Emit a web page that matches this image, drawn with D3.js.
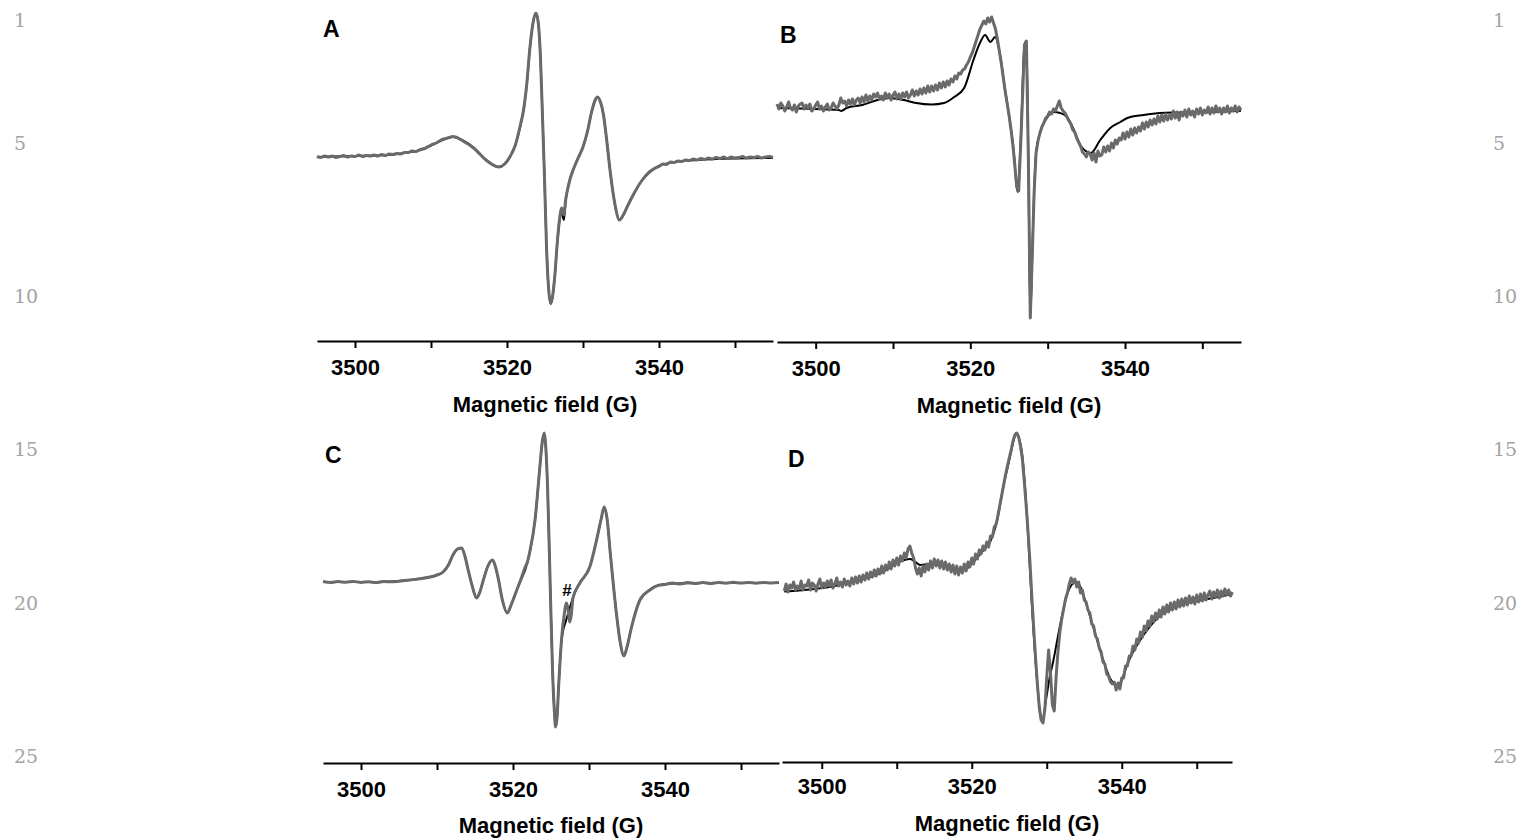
<!DOCTYPE html>
<html>
<head>
<meta charset="utf-8">
<script src="https://cdn.jsdelivr.net/npm/d3@7"></script>
<style>
	body { margin: 0; background: #fff; }
	svg { display: block; }
</style>
</head>
<body>
<script>
// Field ticks shared by all four panels
const fieldTicks = [3500, 3510, 3520, 3530, 3540, 3550]
const labelTicks = [3500, 3520, 3540]
const lineNumbers = [1, 5, 10, 15, 20, 25]

// Panel A (simulation = black, experiment = grey)
const aField = [3495, 3497, 3500, 3503, 3505, 3507, 3508.6, 3510, 3511.5, 3512.9, 3514.2, 3515.6, 3517.3, 3518.9, 3519.7,
	3520.4, 3521.1, 3521.7, 3522.2, 3522.6, 3523.0, 3523.4, 3523.8, 3524.1, 3524.4, 3524.65, 3524.9, 3525.2, 3525.5,
	3525.75, 3526.0, 3526.3, 3526.6, 3526.9, 3527.2, 3527.35, 3527.5, 3527.7, 3527.9, 3528.3, 3528.7, 3529.3, 3530.0,
	3530.6, 3531.1, 3531.6, 3531.9, 3532.3, 3532.7, 3533.1, 3533.6, 3534.2, 3534.8, 3535.3, 3535.8, 3536.6, 3537.7,
	3538.8, 3540, 3542, 3545, 3550, 3555]
const aFit = [0, 0.5, 1, 1.5, 2.5, 4.5, 7, 11.5, 17, 20, 16.5, 9.5, -3, -10, -7,
	0, 12, 29, 48, 72, 108, 133, 144, 135, 100, 45, -12, -90, -135,
	-147, -140, -118, -88, -64, -54, -60, -63, -45, -35, -22, -13, -2, 10,
	26, 44, 57, 60, 55, 42, 18, -16, -48, -63, -58, -50, -38, -24,
	-15, -9, -5, -3, -1.5, -1]
const aExpField = [3495, 3495.5, 3496, 3496.5, 3497, 3497.5, 3498, 3498.5, 3499, 3499.5, 3500, 3500.5, 3501, 3501.5,
	3502, 3502.5, 3503, 3503.5, 3504, 3504.5, 3505, 3505.5, 3506, 3506.5, 3507, 3507.5, 3508, 3508.6, 3509.2, 3510,
	3510.7, 3511.5, 3512.2, 3512.9, 3514.2, 3515.6, 3517.3, 3518.9, 3519.7, 3520.4, 3521.1, 3521.7, 3522.2, 3522.6,
	3523.0, 3523.4, 3523.8, 3524.1, 3524.4, 3524.65, 3524.9, 3525.2, 3525.5, 3525.75, 3526.0, 3526.3, 3526.6, 3526.9,
	3527.2, 3527.35, 3527.5, 3527.7, 3527.9, 3528.3, 3528.7, 3529.3, 3530.0, 3530.6, 3531.1, 3531.6, 3531.9, 3532.3,
	3532.7, 3533.1, 3533.6, 3534.2, 3534.8, 3535.3, 3535.8, 3536.6, 3537.7, 3538.8, 3539.5, 3540, 3540.5, 3541,
	3541.5, 3542, 3542.5, 3543, 3543.5, 3544, 3544.5, 3545, 3545.5, 3546, 3546.5, 3547, 3547.5, 3548, 3548.5, 3549,
	3549.5, 3550, 3550.5, 3551, 3551.5, 3552, 3552.5, 3553, 3553.5, 3554, 3554.5, 3555]
const aExp = [0.5, -0.5, 1, 0, 1, -0.5, 0.5, 1.5, 0, 1, 0.5, 2, 0.5, 1.5,
	1, 2, 1, 2.5, 1.5, 3, 2.5, 3.5, 3, 4.5, 4.5, 6, 5.5, 7.5, 8.5, 12,
	14, 17.5, 19, 20.5, 16, 9, -3.5, -10, -7, 0.5, 12, 30, 48, 73,
	108, 133, 144, 135, 100, 45, -12, -90, -134, -146, -139, -118, -87, -63,
	-51, -55, -58, -44, -35, -22, -13, -2, 10, 26, 44, 57, 60, 55,
	42, 18, -16, -47, -63, -58, -50, -38, -24, -14.5, -11, -9.5, -7, -7.5,
	-5, -5.5, -4, -4.5, -3, -3.5, -2, -3, -1.5, -2.5, -1, -2, -0.5, -1.5, 0, -1.5,
	0, -1, -0.5, 0.5, -1, 0, -0.5, 0.5, -1, 0, 0.5, -0.5]

// Panel B
const bField = [3495, 3500, 3503, 3503.3, 3504, 3506, 3508, 3509.5, 3511.4, 3513, 3515, 3516.6, 3517.9, 3519.2,
	3520.4, 3521.3, 3521.9, 3522.6, 3523.2, 3523.8, 3524.5, 3524.9, 3525.6, 3526.1, 3526.5, 3527.0, 3527.25, 3527.5,
	3527.75, 3528.0, 3528.25, 3528.5, 3529.0, 3529.9, 3530.8, 3531.6, 3532.5, 3533.4, 3534.2, 3535.6, 3536.8, 3538.1,
	3539.4, 3540.3, 3542.4, 3544.6, 3546.7, 3551, 3555]
const bFit = [-1, -2, -3, -4, -1, 2, 7, 9, 7, 4, 2.5, 4, 10, 19,
	47, 65, 72, 65, 70, 54, 17, -3, -43, -85, -36, 62, 66, -50,
	-211, -150, -85, -46, -26, -11, -5, -6, -10, -23, -38, -46, -33, -21,
	-15, -11, -8, -6, -5.5, -5, -3.7]
const bExpStart = 3495
const bExpStep = 0.25
const bExp = [
	3, -2, 4, 1, -4, 0, 5, -1,
	-3, 2, -5, 1, 3, 4, -2, 2,
	-1, 3, -4, -2, 2, 5, -2, 1,
	-4, 0, 3, -3, -1, 4, 1, -2,
	2, 9, 4, 6, 1, 7, 3, 8,
	2, 7, 9, 4, 10, 5, 12, 6,
	11, 7, 13, 10, 14, 8, 11, 7,
	14, 9, 13, 7, 12, 15, 8, 13,
	8, 14, 10, 15, 9, 12, 17, 11,
	16, 12, 18, 13, 19, 14, 21, 15,
	21, 16, 22, 17, 24, 19, 25, 20,
	26, 22, 28, 25, 31, 28, 34, 33,
	37, 38, 42, 45, 50, 54, 60, 66,
	72, 78, 82, 86, 83, 89, 85, 90,
	84, 78, 68, 56, 44, 30, 16, 4,
	-8, -22, -38, -58, -80, -84, -40, 10,
	62, 66, -50, -211, -150, -85, -46, -34,
	-26, -20, -16, -11, -9, -5, -7, -2,
	-4, 1, 6, -1, -4, -6, -10, -14,
	-17, -23, -25, -31, -35, -39, -45, -47,
	-50, -45, -47, -53, -46, -55, -44, -49,
	-48, -40, -45, -39, -44, -36, -41, -33,
	-37, -31, -33, -26, -32, -25, -30, -22,
	-28, -21, -26, -20, -24, -16, -22, -15,
	-20, -13, -18, -12, -17, -9, -15, -8,
	-14, -7, -13, -8, -12, -4, -11, -5,
	-13, -5, -9, -3, -10, -2, -8, -4,
	-10, -2, -7, -1, -8, -3, -6, 0,
	-7, -1, -6, 1, -5, -1, -7, -1,
	-5, 1, -6, -1, -4, 1, -5, 0,
	-3]

// Panel C
const cField = [3495, 3500, 3504, 3506.4, 3508, 3509.1, 3510, 3510.8, 3511.5, 3512.1, 3512.7, 3513.25, 3513.7, 3514.1,
	3514.6, 3515.2, 3515.6, 3516.1, 3516.7, 3517.3, 3517.7, 3518.1, 3518.6, 3519.25, 3519.8, 3520.5, 3521.1, 3521.6,
	3522.2, 3522.9, 3523.5, 3523.85, 3524.1, 3524.35, 3524.55, 3524.9, 3525.2, 3525.45, 3525.6, 3525.8, 3526.0, 3526.4,
	3527.0, 3527.4, 3527.9, 3528.8, 3530.1, 3531.0, 3531.6, 3532.0, 3532.4, 3532.8, 3533.6, 3534.1, 3534.6, 3535.0,
	3535.6, 3536.7, 3538.0, 3539.3, 3541, 3545, 3555]
const cFit = [0, 0, 0.5, 2, 3.5, 5, 7, 10, 17, 27, 33, 34, 25, 12,
	-3, -16, -11, 2, 16, 22, 15, 2, -18, -31, -22, -8, 3, 12,
	29, 62, 112, 140, 149, 130, 95, -5, -88, -130, -145, -135, -105, -58,
	-38, -28, -15, -1, 15, 42, 63, 75, 62, 29, -31, -60, -74, -65,
	-45, -18, -8, -3, -1.5, -1, -1]
const cExpField = [3495, 3496, 3497, 3498, 3499, 3500, 3501, 3502, 3503, 3504, 3505, 3506.4, 3508, 3509.1, 3510,
	3510.8, 3511.5, 3512.1, 3512.7, 3513.25, 3513.7, 3514.1, 3514.6, 3515.2, 3515.6, 3516.1, 3516.7, 3517.3, 3517.7,
	3518.1, 3518.6, 3519.25, 3519.8, 3520.5, 3521.1, 3521.6, 3521.85, 3522.2, 3522.9, 3523.5, 3523.85, 3524.1, 3524.35,
	3524.55, 3524.9, 3525.2, 3525.45, 3525.6, 3525.8, 3526.0, 3526.4, 3526.75, 3527.0, 3527.2, 3527.45, 3527.65,
	3527.9, 3528.8, 3530.1, 3531.0, 3531.6, 3532.0, 3532.4, 3532.8, 3533.6, 3534.1, 3534.6, 3535.0, 3535.6, 3536.7,
	3538.0, 3539.3, 3540, 3541, 3542, 3543, 3544, 3545, 3546, 3547, 3548, 3549, 3550, 3551, 3552, 3553, 3554, 3555]
const cExp = [0.5, -0.5, 0.5, -0.3, 0.6, -0.4, 0.3, -0.6, 0.5, 0.2, 0.8, 2, 3.5, 5, 7,
	10, 17, 27, 33, 34, 25, 12, -3, -16, -11, 2, 16, 22, 15,
	2, -18, -31, -22, -8, 4, 15, 19, 30, 62, 112, 140, 149, 130,
	95, -5, -88, -130, -145, -135, -105, -56, -32, -21, -25, -40, -34,
	-16, -1, 15, 42, 63, 75, 62, 29, -31, -60, -74, -65, -45, -18,
	-8, -3, -2.5, -1, -2, -0.5, -1.5, -0.5, -1.5, -0.5, -1.2, -0.3, -1, -0.5, -1.2, -0.4, -1, -0.6]

// Panel D
const dField = [3495, 3497, 3499, 3501, 3503.4, 3505.5, 3507.8, 3509, 3510, 3511, 3511.8, 3512.5, 3513.1, 3514,
	3515.4, 3516.7, 3517.7, 3518.5, 3519.3, 3520.2, 3521.6, 3522.5, 3523.4, 3524.2, 3525.1, 3525.6, 3525.9, 3526.3,
	3526.7, 3527.4, 3528.0, 3528.7, 3529.1, 3529.4, 3529.9, 3530.4, 3530.9, 3531.4, 3532.0, 3532.7, 3533.3, 3533.9,
	3534.5, 3535.1, 3536.2, 3537.4, 3538.5, 3539.3, 3539.8, 3540.7, 3541.5, 3542.3, 3543.4, 3544.5, 3545.6, 3547.8,
	3550, 3552.2, 3554.7]
const dFit = [-4.5, -3.5, -2, 0, 4, 8, 14, 19, 24, 27, 28, 25, 22, 22.5,
	24, 22, 19, 16, 18, 25, 37, 46, 67, 100, 130, 147, 154, 149,
	134, 67, -16, -93, -125, -135, -113, -90, -73, -53, -30, -8, 2, 5,
	0, -13, -40, -70, -92, -98, -96, -78, -65, -55, -43, -33, -26, -18,
	-14, -11, -7]
const dExpStart = 3495
const dExpStep = 0.25
const dExp = [
	-4, 3, -5, 2, -1, 5, -3, 1,
	-2, 6, -3, 2, 1, 7, -3, 4,
	2, -4, 3, 8, -1, 4, 0, 6,
	1, 7, -1, 3, 9, 1, 5, 0,
	8, 2, 6, 1, 9, 3, 10, 4,
	11, 5, 12, 7, 14, 8, 15, 10,
	17, 11, 18, 13, 21, 14, 22, 17,
	25, 18, 27, 21, 29, 22, 31, 26,
	34, 29, 38, 41, 34, 29, 19, 13,
	19, 11, 21, 15, 23, 17, 26, 19,
	28, 21, 27, 19, 26, 18, 25, 17,
	23, 15, 22, 13, 21, 12, 20, 14,
	23, 16, 25, 20, 29, 23, 33, 28,
	37, 33, 41, 37, 45, 40, 51, 50,
	60, 63, 72, 82, 92, 102, 112, 121,
	129, 137, 146, 152, 154, 150, 141, 128,
	106, 82, 56, 26, -8, -40, -70, -97,
	-120, -133, -136, -122, -90, -63, -86, -118,
	-124, -90, -64, -45, -32, -22, -12, -6,
	3, 9, 4, 8, 0, 5, -6, -3,
	-13, -15, -23, -26, -37, -39, -49, -52,
	-61, -65, -75, -77, -87, -89, -95, -97,
	-95, -103, -96, -102, -91, -91, -79, -79,
	-69, -69, -59, -63, -52, -56, -45, -50,
	-39, -44, -34, -39, -29, -35, -26, -32,
	-23, -30, -20, -27, -18, -25, -16, -23,
	-15, -22, -13, -20, -12, -19, -11, -18,
	-9, -16, -10, -17, -8, -15, -7, -14,
	-6, -13, -8, -4, -12, -5, -10, -3,
	-11, -4, -9, -2, -8, -3, -9, -5]

const zip = (xs, ys) => ys.map((v, i) => [xs[i], v])
const grid = (start, step, ys) => ys.map((v, i) => [start + i * step, v])

// Panel layout (pixels)
const panels = [
	{ name: 'A', domain: [3495, 3555], left: 317, right: 773, top: 0, axisY: 341, base: 157,
		labelDy: 34, titleDy: 71, letter: [323, 37],
		fit: zip(aField, aFit), exp: zip(aExpField, aExp), noisy: false },
	{ name: 'B', domain: [3495, 3555], left: 777, right: 1241, top: 0, axisY: 342, base: 107,
		labelDy: 34, titleDy: 71, letter: [780, 43],
		fit: zip(bField, bFit), exp: grid(bExpStart, bExpStep, bExp), noisy: true },
	{ name: 'C', domain: [3495, 3555], left: 323, right: 779, top: 420, axisY: 763, base: 582,
		labelDy: 34, titleDy: 70, letter: [325, 463],
		fit: zip(cField, cFit), exp: zip(cExpField, cExp), noisy: false, hash: [3527.1, 590] },
	{ name: 'D', domain: [3494.7, 3554.7], left: 782, right: 1232, top: 420, axisY: 762, base: 587,
		labelDy: 32, titleDy: 69, letter: [788, 467],
		fit: zip(dField, dFit), exp: grid(dExpStart, dExpStep, dExp), noisy: true }
]

const svg = d3.select('body').append('svg')
	.attr('width', 1521)
	.attr('height', 839)
	.style('background', '#fff')

const sans = 'Liberation Sans, Arial, Helvetica, sans-serif'

// Line numbers in the margins
const lineY = d3.scaleLinear().domain([1, 25]).range([27, 763])
;[14, 1493].forEach(xPos => {
	svg.append('g').selectAll('text')
		.data(lineNumbers)
		.join('text')
		.attr('x', xPos)
		.attr('y', d => lineY(d))
		.attr('fill', '#a3a3a3')
		.attr('font-family', 'DejaVu Serif, serif')
		.attr('font-size', 19)
		.text(d => d)
})

function drawPanel(p) {
	const x = d3.scaleLinear().domain(p.domain).range([p.left, p.right])
	const y = d3.scaleLinear().domain([p.base - p.axisY, p.base - p.top]).range([p.axisY, p.top])
	const g = svg.append('g').attr('class', 'panel')

	const smooth = d3.line().x(d => x(d[0])).y(d => y(d[1])).curve(d3.curveMonotoneX)
	const raw = d3.line().x(d => x(d[0])).y(d => y(d[1]))

	// simulated spectrum
	g.append('path')
		.datum(p.fit)
		.attr('d', smooth)
		.attr('fill', 'none')
		.attr('stroke', '#000')
		.attr('stroke-width', 2)
		.attr('stroke-linejoin', 'round')

	// experimental spectrum
	g.append('path')
		.datum(p.exp)
		.attr('d', p.noisy ? raw : smooth)
		.attr('fill', 'none')
		.attr('stroke', '#6a6a6a')
		.attr('stroke-width', 3)
		.attr('stroke-linejoin', 'round')

	// axis
	const axis = d3.axisBottom(x)
		.tickValues(fieldTicks)
		.tickFormat(d => (labelTicks.includes(d) ? d : ''))
		.tickSize(7)
		.tickSizeOuter(0)
	const ga = g.append('g')
		.attr('transform', `translate(0,${p.axisY})`)
		.call(axis)
		.attr('font-family', sans)
		.attr('font-size', 22)
		.attr('font-weight', 'bold')
	ga.select('.domain').attr('stroke-width', 2)
	ga.selectAll('.tick line').attr('stroke-width', 2)
	ga.selectAll('.tick text').attr('y', p.labelDy).attr('dy', null).attr('fill', '#000')

	g.append('text')
		.attr('x', (p.left + p.right) / 2)
		.attr('y', p.axisY + p.titleDy)
		.attr('text-anchor', 'middle')
		.attr('font-family', sans)
		.attr('font-size', 22)
		.attr('font-weight', 'bold')
		.text('Magnetic field (G)')

	g.append('text')
		.attr('x', p.letter[0])
		.attr('y', p.letter[1])
		.attr('font-family', sans)
		.attr('font-size', 23)
		.attr('font-weight', 'bold')
		.text(p.name)

	if (p.hash) {
		g.append('text')
			.attr('x', x(p.hash[0]))
			.attr('y', p.hash[1] + 6)
			.attr('text-anchor', 'middle')
			.attr('font-family', sans)
			.attr('font-size', 17)
			.attr('font-weight', 'bold')
			.text('#')
	}
}

panels.forEach(drawPanel)
</script>
</body>
</html>
